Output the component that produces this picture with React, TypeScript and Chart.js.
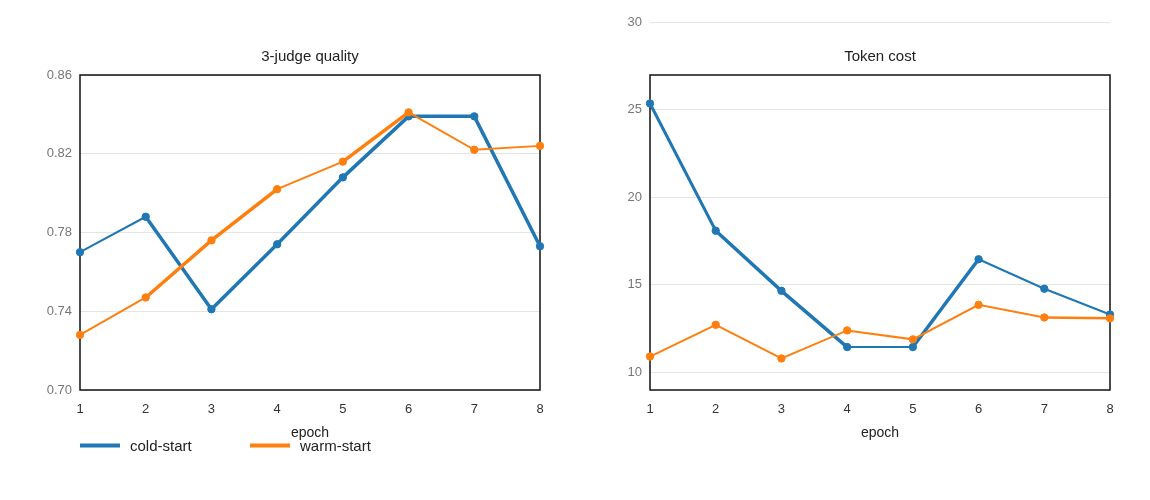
import React, { useEffect, useRef } from "react";
import { Chart, registerables } from "chart.js";

Chart.register(...registerables);

// ---- data ----
const epochs = ["1", "2", "3", "4", "5", "6", "7", "8"];
const seriesNames = ["cold-start", "warm-start"];
const chartTitles = ["3-judge quality", "Token cost"];
const xAxisTitle = "epoch";

const qualityCold = [0.770, 0.788, 0.741, 0.774, 0.808, 0.839, 0.839, 0.773];
const qualityWarm = [0.728, 0.747, 0.776, 0.802, 0.816, 0.841, 0.822, 0.824];
const costCold = [25.35, 18.09, 14.66, 11.45, 11.45, 16.46, 14.78, 13.31];
const costWarm = [10.91, 12.72, 10.80, 12.40, 11.89, 13.86, 13.14, 13.09];

const qualityTicks = [0.70, 0.74, 0.78, 0.82, 0.86];
const costTicks = [10, 15, 20, 25, 30];

// ---- styles ----
const BLUE = "#1f77b4";
const ORANGE = "#ff7f0e";
const FONT = '"Liberation Sans", Arial, Helvetica, sans-serif';

const qualityColdWidths = [2, 3.5, 3.5, 3.5, 3.5, 3.5, 3.5];
const qualityWarmWidths = [2, 3.5, 3.5, 2, 3.5, 2, 2];
const costColdWidths = [3, 3.5, 3.5, 2, 3.5, 2, 2];
const costWarmWidths = [2, 2, 2, 2, 2, 2, 2.5];

const decorPlugin = {
  id: "decor",
  beforeDatasetsDraw(chart: any, _args: any, opts: any) {
    const { ctx, chartArea } = chart;
    const top = opts.frameTop != null ? opts.frameTop : chartArea.top;
    ctx.save();
    ctx.strokeStyle = "#111";
    ctx.lineWidth = 1.5;
    ctx.strokeRect(chartArea.left, top, chartArea.right - chartArea.left, chartArea.bottom - top);
    ctx.restore();
  },
  afterDraw(chart: any, _args: any, opts: any) {
    const { ctx, chartArea } = chart;
    ctx.save();
    ctx.fillStyle = "#222";
    ctx.font = `15px ${FONT}`;
    ctx.textAlign = "center";
    ctx.textBaseline = "middle";
    ctx.fillText(opts.title, (chartArea.left + chartArea.right) / 2, opts.titleY);
    if (opts.legend) {
      const colors = [BLUE, ORANGE];
      seriesNames.forEach((name, i) => {
        const x0 = chartArea.left + i * 170;
        const y = opts.legendY;
        ctx.strokeStyle = colors[i];
        ctx.lineWidth = 4;
        ctx.beginPath();
        ctx.moveTo(x0, y);
        ctx.lineTo(x0 + 40, y);
        ctx.stroke();
        ctx.fillStyle = "#222";
        ctx.textAlign = "left";
        ctx.fillText(name, x0 + 50, y + 1.5);
      });
    }
    ctx.restore();
  },
};

function buildConfig(p: {
  cold: number[];
  warm: number[];
  coldW: number[];
  warmW: number[];
  ticks: number[];
  min: number;
  max: number;
  decimals: number;
  title: string;
  padding: any;
  yWidth: number;
  frameTop: number | null;
  legend: boolean;
}): any {
  const common = {
    pointRadius: 3.7,
    pointBorderWidth: 1,
    pointHoverRadius: 3.7,
    tension: 0,
    clip: false as any,
    fill: false,
  };
  return {
    type: "line",
    data: {
      labels: epochs,
      datasets: [
        {
          ...common,
          label: seriesNames[1],
          data: p.warm,
          borderColor: ORANGE,
          backgroundColor: ORANGE,
          pointBackgroundColor: ORANGE,
          pointBorderColor: ORANGE,
          borderWidth: 2,
          segment: { borderWidth: (c: any) => p.warmW[c.p0DataIndex] },
        },
        {
          ...common,
          label: seriesNames[0],
          data: p.cold,
          borderColor: BLUE,
          backgroundColor: BLUE,
          pointBackgroundColor: BLUE,
          pointBorderColor: BLUE,
          borderWidth: 2,
          segment: { borderWidth: (c: any) => p.coldW[c.p0DataIndex] },
        },
      ],
    },
    options: {
      responsive: false,
      animation: false,
      events: [],
      layout: { padding: p.padding },
      plugins: {
        legend: { display: false },
        title: { display: false },
        tooltip: { enabled: false },
        decor: { title: p.title, titleY: 56.5, frameTop: p.frameTop, legend: p.legend, legendY: 445.5 },
      },
      scales: {
        x: {
          type: "category",
          offset: false,
          grid: { display: false, drawTicks: false },
          border: { display: false },
          ticks: {
            color: "#333",
            font: { family: FONT, size: 13 },
            padding: 11.5,
            autoSkip: false,
            maxRotation: 0,
          },
          title: {
            display: true,
            text: xAxisTitle,
            color: "#222",
            font: { family: FONT, size: 14 },
            padding: { top: 0, bottom: 58.4 },
          },
          afterFit: (s: any) => {
            s.height = 110;
          },
        },
        y: {
          type: "linear",
          min: p.min,
          max: p.max,
          grid: { color: "#e5e5e5", drawTicks: false, lineWidth: 1 },
          border: { display: false },
          ticks: {
            color: "#777",
            font: { family: FONT, size: 13 },
            padding: 8,
            callback: (v: any) => Number(v).toFixed(p.decimals),
          },
          afterBuildTicks: (s: any) => {
            s.ticks = p.ticks.map((v) => ({ value: v }));
          },
          afterFit: (s: any) => {
            s.width = p.yWidth;
          },
        },
      },
    },
    plugins: [decorPlugin],
  };
}

export default function App() {
  const leftRef = useRef<HTMLCanvasElement>(null);
  const rightRef = useRef<HTMLCanvasElement>(null);

  useEffect(() => {
    const left = new Chart(
      leftRef.current as HTMLCanvasElement,
      buildConfig({
        cold: qualityCold,
        warm: qualityWarm,
        coldW: qualityColdWidths,
        warmW: qualityWarmWidths,
        ticks: qualityTicks,
        min: 0.7,
        max: 0.86,
        decimals: 2,
        title: chartTitles[0],
        padding: { left: 0, top: 75, right: 35, bottom: 0 },
        yWidth: 80,
        frameTop: null,
        legend: true,
      })
    );
    const right = new Chart(
      rightRef.current as HTMLCanvasElement,
      buildConfig({
        cold: costCold,
        warm: costWarm,
        coldW: costColdWidths,
        warmW: costWarmWidths,
        ticks: costTicks,
        min: 9,
        max: 30,
        decimals: 0,
        title: chartTitles[1],
        padding: { left: 0, top: 22, right: 40, bottom: 0 },
        yWidth: 75,
        frameTop: 75,
        legend: false,
      })
    );
    return () => {
      left.destroy();
      right.destroy();
    };
  }, []);

  return (
    <div style={{ position: "absolute", left: 0, top: 0, width: 1150, height: 500, background: "#fff" }}>
      <canvas ref={leftRef} width={575} height={500} style={{ position: "absolute", left: 0, top: 0 }} />
      <canvas ref={rightRef} width={575} height={500} style={{ position: "absolute", left: 575, top: 0 }} />
    </div>
  );
}
